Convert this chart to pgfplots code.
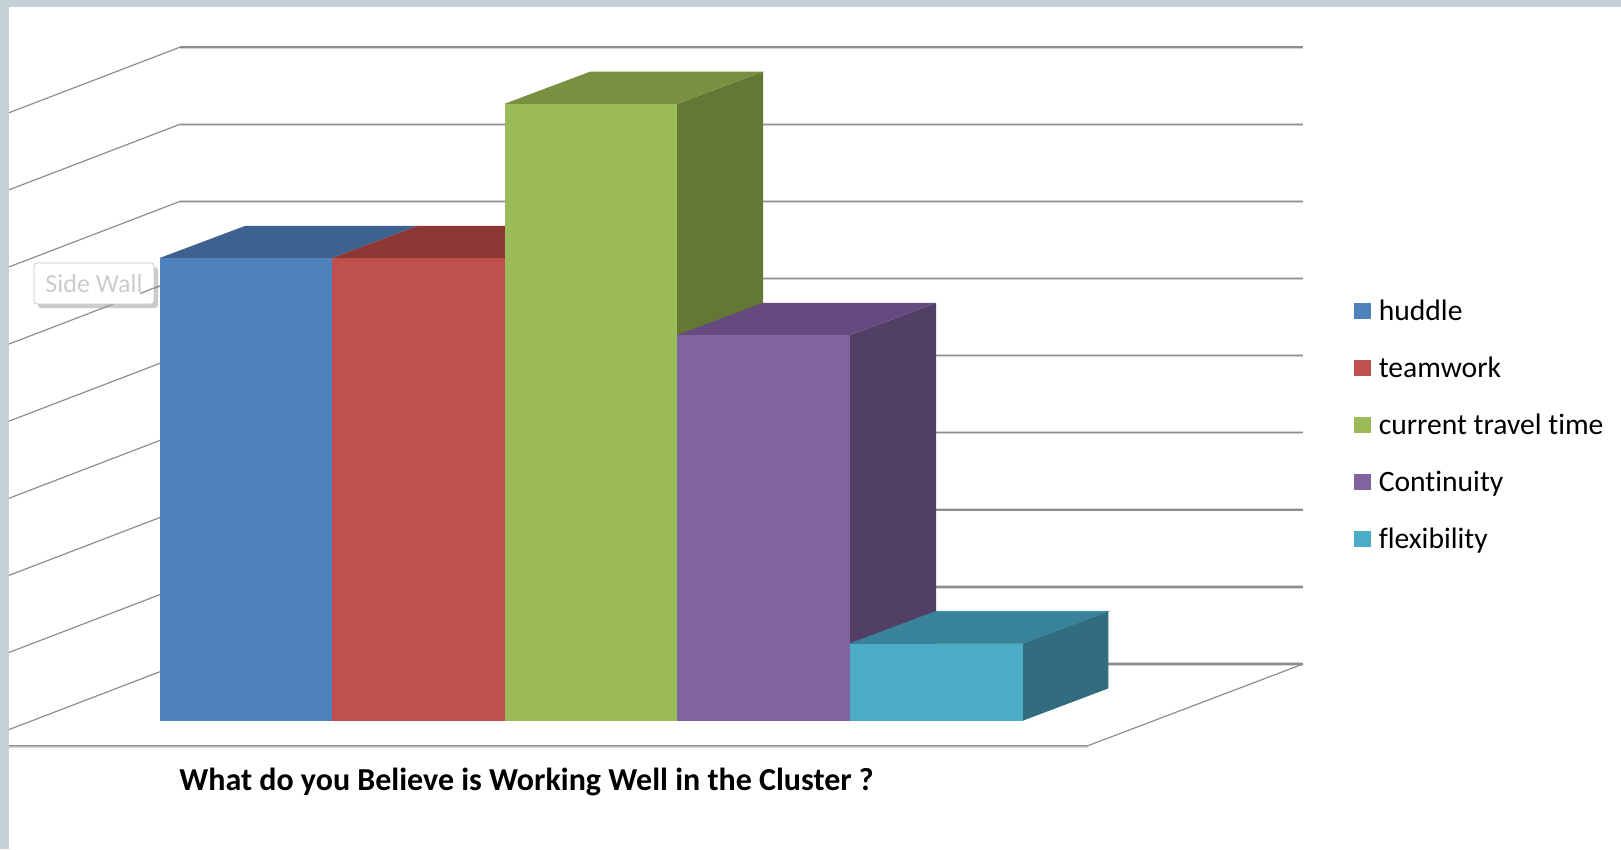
\documentclass[border=0pt]{standalone}
\usepackage{fontspec}
\setmainfont[Ligatures=NoCommon]{Carlito}
\usepackage{pgfplots}
\pgfplotsset{compat=1.18}
\usetikzlibrary{shadows}
\definecolor{frameblue}{HTML}{C5D1D9}
\definecolor{gridgrey}{HTML}{8E8E8E}
\definecolor{gridhalo}{HTML}{D4D4D4}
\definecolor{huddleF}{HTML}{4F81BD}\definecolor{huddleT}{HTML}{3D6290}
\definecolor{teamF}{HTML}{C0504D}\definecolor{teamT}{HTML}{8E3836}
\definecolor{travelF}{HTML}{9BBB59}\definecolor{travelT}{HTML}{789040}\definecolor{travelS}{HTML}{647735}
\definecolor{contF}{HTML}{8064A2}\definecolor{contT}{HTML}{644A7E}\definecolor{contS}{HTML}{523F66}
\definecolor{flexF}{HTML}{4BACC6}\definecolor{flexT}{HTML}{38839A}\definecolor{flexS}{HTML}{316D7E}
\begin{document}
\begin{tikzpicture}[x=1pt,y=1pt]
\begin{axis}[
  scale only axis, width=810.5pt, height=424.5pt,
  xmin=0, xmax=1621, ymin=-1.664, ymax=9.347,
  hide axis,
  legend image code/.code={\fill[#1] (0pt,-2.7pt) rectangle (8.4pt,5.7pt);},
  legend style={draw=none, fill=none, at={(axis cs:1354,5.43)}, anchor=north west,
    inner sep=0pt, outer sep=0pt, font=\fontsize{14.8}{16}\selectfont,
    row sep=16.5pt, nodes={inner sep=0pt, text height=9pt, text depth=3pt},
    /tikz/every odd column/.style={column sep=4pt}},
  legend cell align=left,
]
% white page with the outer slide background along two edges
\addplot[forget plot, fill=white, draw=none] coordinates {(0,-1.664) (1621,-1.664) (1621,9.347) (0,9.347)} -- cycle;
\addplot[forget plot, fill=frameblue, draw=none] coordinates {(0,-1.664) (9,-1.664) (9,9.347) (0,9.347)} -- cycle;
\addplot[forget plot, fill=frameblue, draw=none] coordinates {(0,9.256) (1621,9.256) (1621,9.347) (0,9.347)} -- cycle;

% gridlines on the back wall, side wall and floor outline
\pgfplotsforeachungrouped \v/\w in {0.735/-0.115,1.735/0.885,2.735/1.885,3.735/2.885,4.735/3.885,5.735/4.885,6.735/5.885,7.735/6.885,8.735/7.885}{
  \edef\temp{\noexpand\addplot[forget plot, gridhalo, line width=1.6pt] coordinates {(180,\v) (1303,\v)};
    \noexpand\addplot[forget plot, gridgrey, line width=0.7pt] coordinates {(180,\v) (1303,\v)};
    \noexpand\addplot[forget plot, gridgrey, line width=0.6pt] coordinates {(9,\w) (180,\v)};}
  \temp
}
\addplot[forget plot, gridhalo, line width=1.4pt] coordinates {(9,-0.33) (1088,-0.33)};
\addplot[forget plot, gridgrey, line width=0.6pt] coordinates {(9,-0.324) (1088,-0.324) (1303,0.735)};

% huddle = 6
\addplot[forget plot, fill=huddleT, draw=none] coordinates {(159.5,6) (332,6) (418,6.419) (245.5,6.419)} -- cycle;
\addplot[fill=huddleF, draw=none] coordinates {(159.5,0) (332,0) (332,6) (159.5,6)} -- cycle;
\addlegendentry{huddle}
% teamwork = 6
\addplot[forget plot, fill=teamT, draw=none] coordinates {(332,6) (504.5,6) (590.5,6.419) (418,6.419)} -- cycle;
\addplot[fill=teamF, draw=none] coordinates {(332,0) (504.5,0) (504.5,6) (332,6)} -- cycle;
\addlegendentry{teamwork}
% current travel time = 8
\addplot[forget plot, fill=travelS, draw=none] coordinates {(677,0) (763,0.419) (763,8.419) (677,8)} -- cycle;
\addplot[forget plot, fill=travelT, draw=none] coordinates {(504.5,8) (677,8) (763,8.419) (590.5,8.419)} -- cycle;
\addplot[fill=travelF, draw=none] coordinates {(504.5,0) (677,0) (677,8) (504.5,8)} -- cycle;
\addlegendentry{current travel time}
% Continuity = 5
\addplot[forget plot, fill=contS, draw=none] coordinates {(850,0) (936,0.419) (936,5.419) (850,5)} -- cycle;
\addplot[forget plot, fill=contT, draw=none] coordinates {(677,5) (850,5) (936,5.419) (763,5.419)} -- cycle;
\addplot[fill=contF, draw=none] coordinates {(677,0) (850,0) (850,5) (677,5)} -- cycle;
\addlegendentry{Continuity}
% flexibility = 1
\addplot[forget plot, fill=flexS, draw=none] coordinates {(1022.7,0) (1108.4,0.419) (1108.4,1.419) (1022.7,1)} -- cycle;
\addplot[forget plot, fill=flexT, draw=flexT, line width=0.3pt] coordinates {(850,1) (1022.7,1) (1108.4,1.419) (936,1.419)} -- cycle;
\addplot[fill=flexF, draw=none] coordinates {(850,0) (1022.7,0) (1022.7,1) (850,1)} -- cycle;
\addlegendentry{flexibility}

% chart title under the floor
\node[font=\fontsize{16}{18}\selectfont\bfseries, anchor=center, text=black] at (axis cs:526.5,-0.795)
  {What do you Believe is Working Well in the Cluster ?};

% hover tooltip over the side wall
\node[draw=black!22, fill=white, rounded corners=1.5pt, minimum width=60pt, minimum height=20.5pt,
  inner sep=0pt, text=black!20, font=\fontsize{13}{15}\selectfont,
  drop shadow={shadow xshift=2pt, shadow yshift=-2pt, fill=black!40, opacity=0.5}]
  at (axis cs:94,5.67) {Side Wall};
\addplot[forget plot, gridgrey, line width=0.6pt] coordinates {(140,5.54) (159.5,5.64)};
\end{axis}
\end{tikzpicture}
\end{document}
